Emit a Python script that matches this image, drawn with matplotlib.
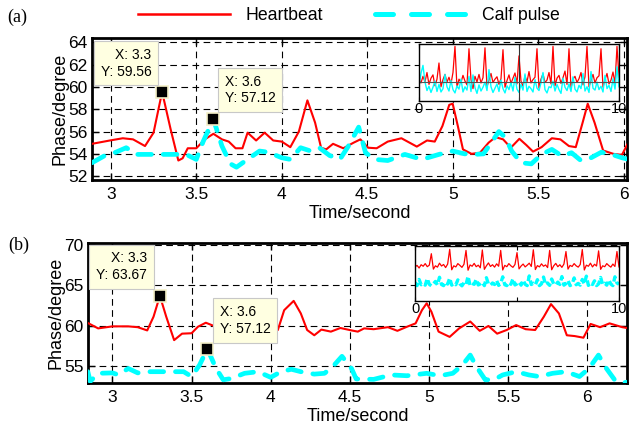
import numpy as np
import matplotlib
matplotlib.use("Agg")
import matplotlib.pyplot as plt
from matplotlib.lines import Line2D

# ---------------- data ----------------
# Panel (a)
a_hb_t = [2.89, 2.995, 3.07, 3.13, 3.20, 3.25, 3.30, 3.35, 3.395, 3.42, 3.45, 3.50, 3.55, 3.60,
          3.65, 3.69, 3.73, 3.77, 3.80, 3.85, 3.90, 3.95, 4.00, 4.05, 4.10, 4.15, 4.195, 4.23,
          4.26, 4.30, 4.36, 4.42, 4.46, 4.505, 4.555, 4.62, 4.70, 4.79, 4.85, 4.895, 4.94, 4.98,
          5.00, 5.03, 5.06, 5.11, 5.16, 5.21, 5.25, 5.295, 5.34, 5.39, 5.43, 5.47, 5.52, 5.58,
          5.63, 5.68, 5.72, 5.76, 5.79, 5.83, 5.88, 5.94, 5.99, 6.03]
a_hb_v = [54.9, 55.2, 55.4, 55.3, 54.7, 55.9, 59.56, 56.2, 53.4, 53.6, 54.5, 54.5, 55.3, 55.8,
          55.3, 55.1, 54.5, 54.5, 55.9, 55.2, 55.9, 55.2, 55.1, 54.6, 56.0, 58.8, 56.8, 54.55,
          54.4, 54.9, 54.5, 55.0, 55.3, 54.55, 54.5, 55.1, 55.4, 54.65, 55.2, 55.1, 56.5, 58.4,
          58.5, 56.5, 54.4, 54.0, 54.1, 55.0, 55.5, 55.3, 54.55, 55.35, 54.8, 54.2, 54.6, 55.4,
          55.3, 54.7, 54.6, 56.8, 58.5, 56.8, 54.3, 54.0, 53.9, 55.1]
a_cp_t = [2.89, 2.96, 3.03, 3.09, 3.15, 3.22, 3.30, 3.38, 3.44, 3.50, 3.54, 3.60, 3.65, 3.70,
          3.735, 3.79, 3.87, 3.92, 4.00, 4.05, 4.11, 4.17, 4.22, 4.28, 4.34, 4.39, 4.45, 4.49,
          4.545, 4.62, 4.72, 4.82, 4.92, 5.00, 5.07, 5.13, 5.18, 5.23, 5.27, 5.31, 5.345, 5.40,
          5.46, 5.52, 5.58, 5.64, 5.695, 5.75, 5.81, 5.87, 5.93, 5.99, 6.03]
a_cp_v = [53.2, 53.8, 54.15, 54.55, 53.95, 53.95, 53.95, 53.95, 53.95, 53.5, 55.1, 57.12, 54.7, 53.1,
          52.8, 53.4, 54.25, 54.15, 53.65, 53.5, 54.55, 54.25, 54.55, 53.85, 53.5, 54.7, 56.4, 54.1,
          53.5, 53.4, 53.95, 53.5, 53.95, 54.25, 54.0, 53.95, 54.0, 55.1, 56.0, 55.45, 54.25, 53.2,
          53.1, 53.95, 54.4, 53.8, 54.1, 53.4, 53.65, 54.15, 53.95, 53.65, 53.5]

# Panel (b)
b_hb_t = [2.85, 2.91, 3.00, 3.10, 3.16, 3.22, 3.26, 3.30, 3.34, 3.39, 3.44, 3.50, 3.54, 3.59,
          3.635, 3.70, 3.80, 3.90, 4.00, 4.045, 4.085, 4.145, 4.19, 4.23, 4.275, 4.32, 4.38,
          4.44, 4.51, 4.55, 4.59, 4.65, 4.74, 4.80, 4.86, 4.915, 4.955, 4.985, 5.015, 5.06,
          5.13, 5.19, 5.26, 5.32, 5.375, 5.43, 5.49, 5.55, 5.61, 5.67, 5.725, 5.77, 5.82, 5.87,
          5.92, 5.975, 6.02, 6.08, 6.14, 6.22, 6.25]
b_hb_v = [60.27, 59.65, 59.9, 59.9, 59.8, 59.4, 61.1, 63.67, 61.1, 58.2, 59.0, 59.05, 59.85, 60.35,
          60.0, 59.6, 59.8, 60.0, 59.6, 59.45, 61.9, 63.05, 61.5, 59.45, 58.8, 59.5, 59.25,
          59.7, 59.4, 59.25, 59.65, 59.55, 59.8, 59.35, 59.85, 60.27, 61.9, 62.75, 61.7, 59.25,
          58.6, 59.65, 60.5, 59.35, 59.95, 59.0, 59.45, 60.06, 59.55, 59.45, 61.1, 62.65, 61.5, 58.8,
          58.7, 58.5, 60.2, 59.8, 60.27, 59.8, 59.7]
b_cp_t = [2.845, 2.86, 2.91, 3.00, 3.04, 3.10, 3.16, 3.24, 3.35, 3.45, 3.50, 3.55, 3.60, 3.655,
          3.70, 3.75, 3.835, 3.92, 4.00, 4.065, 4.13, 4.19, 4.275, 4.34, 4.40, 4.45, 4.51, 4.54,
          4.65, 4.76, 4.86, 4.985, 5.07, 5.15, 5.21, 5.26, 5.30, 5.355, 5.41, 5.465, 5.55, 5.63,
          5.695, 5.78, 5.865, 5.95, 6.01, 6.07, 6.12, 6.17, 6.21, 6.25]
b_cp_v = [54.3, 53.1, 54.1, 54.15, 53.9, 54.7, 54.15, 54.3, 54.3, 54.3, 53.7, 55.1, 57.12, 54.7,
          53.3, 53.45, 54.1, 54.3, 53.6, 54.3, 54.6, 54.3, 54.0, 54.1, 55.1, 56.2, 54.7, 53.4,
          53.35, 53.9, 53.8, 54.1, 53.8, 54.1, 55.1, 56.35, 54.9, 53.3, 53.3, 53.9, 54.3, 53.9,
          53.7, 54.1, 54.3, 53.7, 54.7, 56.35, 54.7, 53.35, 52.9, 53.0]

# Insets: full 0-10 s records (one value every 0.1 s)
ins_a_hb = [54.5, 53.8, 55.2, 54.0, 56.0, 53.5, 54.8, 55.5, 53.2, 54.6,
            58.0, 53.0, 54.5, 55.6, 54.0, 55.0, 53.6, 56.0, 61.5, 52.8,
            54.6, 53.9, 55.4, 54.2, 53.4, 61.0, 54.5, 52.6, 55.2, 54.0,
            55.6, 53.8, 54.9, 61.2, 53.0, 54.4, 55.8, 53.9, 54.6, 55.1,
            53.5, 54.7, 60.8, 52.9, 54.3, 55.5, 53.7, 54.8, 55.9, 53.6,
            59.5, 54.2, 53.1, 55.3, 54.0, 56.2, 53.8, 54.5, 55.0, 61.0,
            52.7, 54.6, 55.7, 53.9, 54.4, 56.0, 53.6, 61.5, 53.2, 54.8,
            55.4, 53.7, 54.9, 56.3, 53.5, 61.0, 52.8, 54.6, 55.2, 53.9,
            54.7, 56.0, 53.4, 55.1, 61.5, 53.0, 54.3, 55.6, 53.8, 54.9,
            55.3, 61.0, 52.9, 54.5, 55.8, 53.6, 54.4, 56.1, 53.7, 61.5, 55.0]
ins_a_cp = [53.0, 55.8, 57.5, 54.0, 52.2, 53.1, 51.8, 52.9, 54.2, 52.0,
            53.5, 51.9, 52.6, 55.6, 53.0, 52.1, 54.3, 52.4, 51.7, 53.2,
            52.5, 54.6, 51.9, 53.0, 52.3, 55.2, 52.0, 55.5, 52.8, 51.6,
            53.4, 52.1, 52.9, 54.0, 52.2, 56.6, 53.0, 51.8, 52.7, 53.6,
            52.0, 54.4, 52.6, 51.7, 53.2, 52.4, 53.9, 52.1, 55.0, 52.5,
            51.8, 53.5, 52.3, 55.7, 52.0, 53.1, 52.6, 51.9, 54.5, 52.7,
            52.2, 53.8, 56.0, 52.4, 51.7, 53.0, 52.8, 54.2, 52.1, 53.5,
            52.4, 51.6, 54.8, 52.9, 52.2, 53.6, 52.0, 55.1, 52.5, 51.9,
            53.3, 52.6, 55.8, 52.1, 53.0, 51.8, 56.2, 52.7, 52.3, 54.0,
            52.4, 53.1, 51.9, 55.4, 52.6, 53.3, 52.0, 54.7, 52.5, 57.2, 53.0]
ins_b_hb = [60.5, 61.2, 60.0, 61.5, 60.8, 62.0, 60.6, 61.3, 66.5, 59.5,
            61.0, 60.4, 62.2, 60.9, 61.6, 60.2, 61.8, 68.5, 59.2, 61.0,
            60.5, 62.0, 61.2, 60.3, 61.7, 68.0, 59.0, 61.4, 60.8, 62.1,
            60.6, 61.3, 60.1, 68.2, 59.4, 61.0, 62.3, 60.7, 61.5, 60.4,
            61.9, 60.8, 68.0, 59.1, 61.2, 60.6, 62.0, 61.0, 60.3, 61.6,
            67.0, 59.6, 60.9, 61.8, 60.5, 61.3, 62.2, 60.7, 68.3, 59.3,
            61.1, 60.5, 61.9, 60.8, 61.4, 60.2, 68.0, 59.2, 61.0, 62.1,
            60.6, 61.5, 60.3, 61.8, 67.5, 59.5, 61.2, 60.7, 62.0, 61.0,
            60.4, 61.6, 68.4, 59.1, 61.3, 60.8, 62.2, 60.5, 61.7, 60.9,
            67.8, 59.4, 61.0, 60.6, 62.0, 61.1, 60.4, 61.8, 60.7, 67.5, 60.5]
ins_b_cp = [53.5, 52.0, 54.8, 52.4, 53.0, 52.2, 55.2, 52.6, 51.9, 52.8,
            53.9, 52.3, 55.8, 52.5, 52.0, 53.6, 52.7, 55.4, 52.2, 53.1,
            52.4, 54.6, 52.8, 51.9, 53.3, 52.5, 56.2, 52.1, 53.0, 52.6,
            54.9, 52.3, 52.8, 53.5, 52.0, 55.6, 52.7, 52.2, 53.2, 52.5,
            54.3, 52.1, 52.9, 56.0, 52.4, 52.0, 53.4, 52.6, 55.1, 52.3,
            52.8, 53.7, 52.2, 54.5, 52.6, 52.0, 56.4, 52.5, 53.1, 52.3,
            54.7, 52.0, 52.8, 55.9, 52.4, 53.2, 52.1, 55.0, 52.7, 52.3,
            53.6, 52.5, 56.1, 52.2, 52.9, 54.4, 52.0, 52.6, 55.5, 52.4,
            53.0, 52.2, 54.8, 52.7, 56.3, 52.1, 53.3, 52.5, 54.2, 52.0,
            52.8, 55.7, 52.4, 53.1, 52.2, 54.6, 52.7, 52.0, 56.0, 53.2, 52.6]

tips_a = [(3.3, 59.56), (3.6, 57.12)]
tips_b = [(3.3, 63.67), (3.6, 57.12)]

a_yticks = [52, 54, 56, 58, 60, 62, 64]
b_yticks = [55, 60, 65, 70]
xticks = [3, 3.5, 4, 4.5, 5, 5.5, 6]

# ---------------- style ----------------
RED = '#FF0000'
CYAN = '#00FFFF'
SANS = ['Liberation Sans', 'DejaVu Sans']
plt.rcParams['font.family'] = SANS

fig = plt.figure(figsize=(6.29, 4.28), dpi=100)

ax_a = fig.add_axes([0.1463, 0.5794, 0.8506, 0.3318])
ax_b = fig.add_axes([0.1399, 0.1051, 0.8569, 0.3271])

cyan_dash = (0, (2.9, 2.5))


def style_main(ax, xlim, ylim, yticks):
    ax.set_xlim(*xlim)
    ax.set_ylim(*ylim)
    ax.set_xticks(xticks)
    ax.set_xticklabels([('%g' % v) for v in xticks])
    ax.set_yticks(yticks)
    ax.set_yticklabels([str(v) for v in yticks])
    ax.grid(True, color='k', lw=0.8, linestyle=(0, (6, 4)))
    ax.tick_params(direction='in', length=5, width=1, top=True, right=True,
                   labelsize=12.5)
    ax.tick_params(axis='y', pad=3)
    ax.tick_params(axis='x', pad=5)
    for s in ax.spines.values():
        s.set_linewidth(2)
    ax.set_ylabel('Phase/degree', fontsize=13, labelpad=0)
    ax.set_xlabel('Time/second', fontsize=13, labelpad=2)


def add_tips(ax, tips, offsets):
    for (x, y), (dx, dy), align in zip(tips, offsets, ['right', 'left']):
        ax.plot([x], [y], marker='s', ms=8, mfc='k', mec='#F4F0C8', mew=1.2, zorder=6)
        ax.annotate('X: %g\nY: %.2f' % (x, y), xy=(x, y), xytext=(dx, dy),
                    textcoords='offset points', ha='center', va='center',
                    multialignment=align, fontsize=10, zorder=7,
                    bbox=dict(boxstyle='square,pad=0.5', fc='#FFFFE1', ec='#C8C8C8', lw=0.8))


def plot_pair(ax, ht, hv, ct, cv):
    ax.plot(ht, hv, color=RED, lw=1.5, zorder=3)
    ax.plot(ct, cv, color=CYAN, lw=3.4, linestyle=cyan_dash, zorder=4,
            dash_capstyle='round')


# panel (a)
plot_pair(ax_a, a_hb_t, a_hb_v, a_cp_t, a_cp_v)
style_main(ax_a, (2.89, 6.02), (51.65, 64.4), a_yticks)
add_tips(ax_a, tips_a, [(-26, 20.5), (26.4, 21.2)])

# panel (b)
plot_pair(ax_b, b_hb_t, b_hb_v, b_cp_t, b_cp_v)
style_main(ax_b, (2.846, 6.25), (52.9, 70.2), b_yticks)
add_tips(ax_b, tips_b, [(-27.4, 21.1), (27.1, 20.4)])

# insets
t_ins = np.arange(len(ins_a_hb)) * 0.1

ia = fig.add_axes([0.6661, 0.7640, 0.3180, 0.1332])
ia.plot(t_ins, ins_a_hb, color=RED, lw=0.9)
ia.plot(t_ins, ins_a_cp, color=CYAN, lw=1.0)
ia.axvline(5, color='#333333', lw=0.8)
ia.axhline(54, color='#555555', lw=0.8)
ia.set_xlim(0, 10)
ia.set_ylim(50, 62)

ib = fig.add_axes([0.6598, 0.2967, 0.3243, 0.1285])
ib.plot(t_ins, ins_b_hb, color=RED, lw=0.9)
ib.plot(t_ins, ins_b_cp, color=CYAN, lw=2.4, linestyle=(0, (2, 1)))
ib.set_xlim(0, 10)
ib.set_ylim(45, 70)

for ia_ in (ia, ib):
    ia_.set_xticks([0, 5, 10])
    ia_.set_xticklabels(['0', '', '10'])
    ia_.set_yticks([])
    ia_.tick_params(direction='in', length=3, labelsize=10.5, pad=1, top=True)
    for s in ia_.spines.values():
        s.set_linewidth(1.0)
    ia_.set_facecolor('white')

# legend
handles = [Line2D([], [], color=RED, lw=1.8),
           Line2D([], [], color=CYAN, lw=3.6, linestyle=(0, (3.6, 3.6)),
                  dash_capstyle='round')]
fig.legend(handles, ['Heartbeat', 'Calf pulse'], loc='center',
           bbox_to_anchor=(0.555, 1 - 16 / 428), ncol=2, frameon=False,
           fontsize=12.7, handlelength=5.2, handletextpad=0.85, columnspacing=3.0)

# panel letters
fig.text(17 / 629, 1 - 17 / 428, '(a)', family=['Liberation Serif', 'DejaVu Serif'],
         fontsize=13, ha='center', va='center')
fig.text(18.5 / 629, 1 - 245 / 428, '(b)', family=['Liberation Serif', 'DejaVu Serif'],
         fontsize=13, ha='center', va='center')

fig.savefig('out.png', dpi=100)
